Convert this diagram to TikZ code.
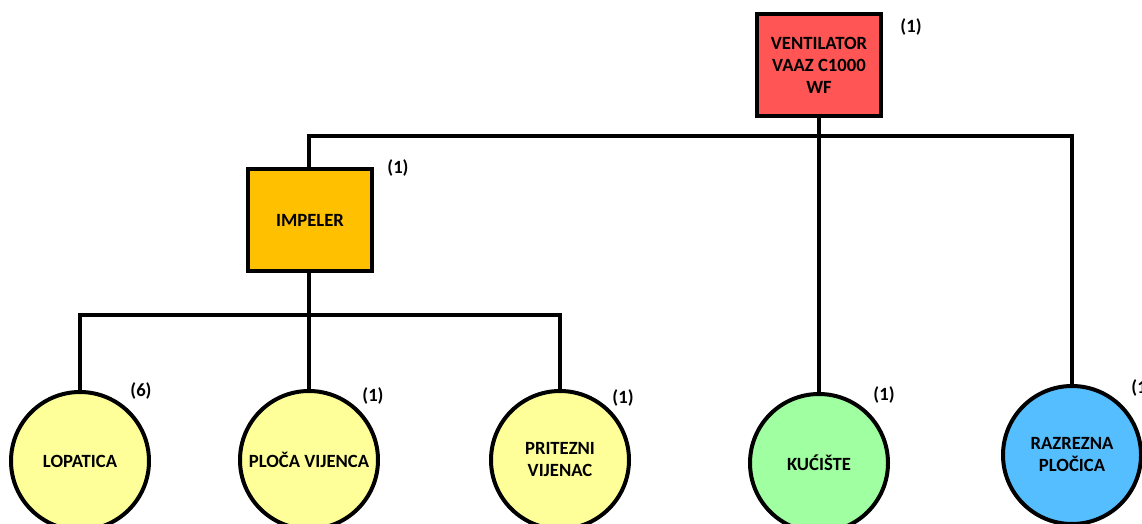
\documentclass[tikz,border=0pt]{standalone}
\usepackage{fontspec}
\setmainfont{Carlito}
\usetikzlibrary{positioning}

\definecolor{ventred}{RGB}{255,85,85}
\definecolor{impamber}{RGB}{255,192,0}
\definecolor{leafyellow}{RGB}{255,255,153}
\definecolor{leafgreen}{RGB}{160,255,160}
\definecolor{leafblue}{RGB}{85,190,255}

\begin{document}
\begin{tikzpicture}[x=0.75pt, y=-0.75pt, line width=3pt,
    part/.style={draw, rectangle, minimum width=93pt, minimum height=76pt, align=center, font=\bfseries\fontsize{14}{16.5}\selectfont},
    leaf/.style={draw, circle, minimum size=103.5pt, inner sep=0pt, align=center, font=\bfseries\fontsize{14}{16.5}\selectfont},
    qty/.style={font=\bfseries\fontsize{14}{16}\selectfont}]
    \useasboundingbox (0,0) rectangle (1142,524);

    % Nodes
    \node[part, fill=ventred] (vent) at (819,65) {VENTILATOR\\VAAZ C1000\\WF};
    \node[part, fill=impamber] (imp) at (310,220) {IMPELER};
    \node[leaf, fill=leafyellow] (lop) at (80,461) {LOPATICA};
    \node[leaf, fill=leafyellow] (plo) at (309,460) {PLOČA VIJENCA};
    \node[leaf, fill=leafyellow] (pri) at (560,460) {PRITEZNI\\VIJENAC};
    \node[leaf, fill=leafgreen] (kuc) at (819,463) {KUĆIŠTE};
    \node[leaf, fill=leafblue] (raz) at (1072,455) {RAZREZNA\\PLOČICA};

    % Quantities
    \node[qty] (qvent) at (911,27) {(1)};
    \node[qty] (qimp) at (398,168) {(1)};
    \node[qty] (qlop) at (141,391) {(6)};
    \node[qty] (qplo) at (373,396) {(1)};
    \node[qty] (qpri) at (623,398) {(1)};
    \node[qty] (qkuc) at (884,395) {(1)};
    \node[qty] (qraz) at (1142,388) {(1)};

    % Connections
    \coordinate (bustop) at (819,136);
    \coordinate (busimp) at (309,315);
    \draw (imp.north -| busimp) |- (bustop) -| (raz.north);
    \draw (vent.south) -- (kuc.north);
    \draw (lop.north) |- (busimp) -| (pri.north);
    \draw (imp.south -| busimp) -- (plo.north);
\end{tikzpicture}
\end{document}
